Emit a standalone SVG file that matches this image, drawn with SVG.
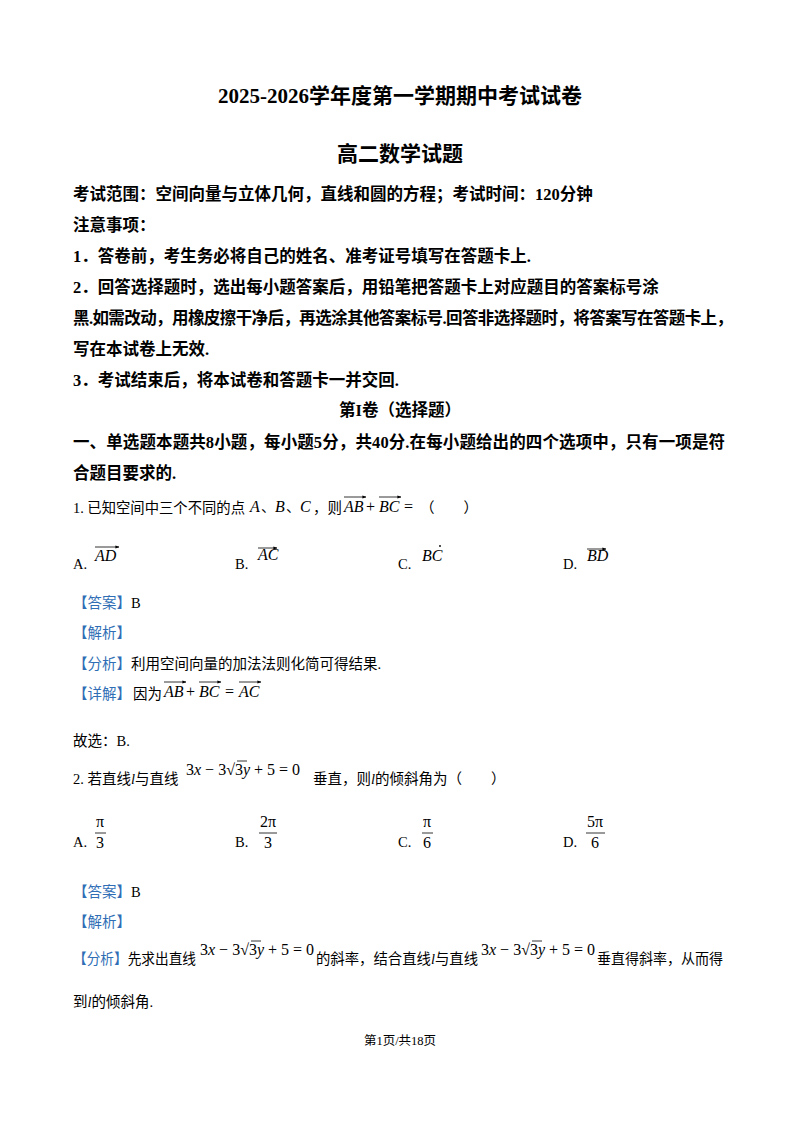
<svg xmlns="http://www.w3.org/2000/svg" width="800" height="1132" viewBox="0 0 800 1132">
<style>
text{font-family:"Liberation Serif","Noto Sans CJK SC",serif;fill:#000}
.h{font-weight:bold;font-size:16.5px}
.t{font-size:21px;font-weight:bold}
.n{font-size:14.5px}
.m{font-size:16px;font-style:italic}
.r{font-size:16px}
.b{fill:#2f6eb5;font-size:14.5px}
.v{stroke:#000;stroke-width:0.8;fill:none}
</style>
<defs><marker id="a" markerWidth="5" markerHeight="4" refX="4.5" refY="2" orient="auto"><path d="M0,0L5,2L0,4" fill="#000"/></marker></defs>
<rect width="800" height="1132" fill="#fff"/>
<text class="t" x="400" y="103" text-anchor="middle">2025-2026学年度第一学期期中考试试卷</text>
<text class="t" x="400" y="161" text-anchor="middle">高二数学试题</text>
<text class="h" x="73" y="200">考试范围：空间向量与立体几何，直线和圆的方程；考试时间：120分钟</text>
<text class="h" x="73" y="231">注意事项：</text>
<text class="h" x="73" y="262">1．答卷前，考生务必将自己的姓名、准考证号填写在答题卡上.</text>
<text class="h" x="73" y="293">2．回答选择题时，选出每小题答案后，用铅笔把答题卡上对应题目的答案标号涂</text>
<text class="h" x="73" y="324" textLength="660" lengthAdjust="spacing">黑.如需改动，用橡皮擦干净后，再选涂其他答案标号.回答非选择题时，将答案写在答题卡上，</text>
<text class="h" x="73" y="355">写在本试卷上无效.</text>
<text class="h" x="73" y="386">3．考试结束后，将本试卷和答题卡一并交回.</text>
<text class="h" x="400" y="416" text-anchor="middle" font-size="15">第I卷（选择题）</text>
<text class="h" x="73" y="448" textLength="652" lengthAdjust="spacing">一、单选题本题共8小题，每小题5分，共40分.在每小题给出的四个选项中，只有一项是符</text>
<text class="h" x="73" y="479">合题目要求的.</text>
<g id="q1">
<text class="n" x="73" y="513" textLength="172" lengthAdjust="spacingAndGlyphs">1. 已知空间中三个不同的点</text>
<text class="m" x="250" y="512">A</text><text class="n" x="261" y="512">、</text><text class="m" x="275" y="512">B</text><text class="n" x="286" y="512">、</text><text class="m" x="300" y="512">C</text>
<text class="n" x="313" y="513">，则</text>
<text class="m" x="344" y="512">AB</text><text class="r" x="366" y="512">+</text><text class="m" x="379" y="512">BC</text><text class="r" x="404" y="512">=</text>
<text class="n" x="420" y="513">（　　）</text>
<line class="v" x1="344" y1="497" x2="366" y2="497" marker-end="url(#a)"/>
<line class="v" x1="379" y1="497" x2="401" y2="497" marker-end="url(#a)"/>
<text class="n" x="73" y="569">A.</text><text class="m" x="95" y="561">AD</text><line class="v" x1="95" y1="547" x2="119" y2="547" marker-end="url(#a)"/>
<text class="n" x="235" y="569">B.</text><text class="m" x="258" y="560" font-size="13">AC</text><line class="v" x1="258" y1="548" x2="277" y2="548" marker-end="url(#a)"/>
<text class="n" x="398" y="569">C.</text><text class="m" x="422" y="561">BC</text><circle cx="440" cy="546" r="0.9" fill="#000"/>
<text class="n" x="563" y="569">D.</text><text class="m" x="587" y="561" font-size="13">BD</text><line class="v" x1="587" y1="549" x2="606" y2="549" marker-end="url(#a)"/>
<text class="b" x="73" y="608">【答案】<tspan fill="#000">B</tspan></text>
<text class="b" x="73" y="638">【解析】</text>
<text class="b" x="73" y="669">【分析】<tspan fill="#000">利用空间向量的加法法则化简可得结果.</tspan></text>
<text class="b" x="73" y="699">【详解】</text>
<text class="n" x="133" y="699">因为</text>
<text class="m" x="164" y="697">AB</text><text class="r" x="186" y="697">+</text><text class="m" x="199" y="697">BC</text><text class="r" x="225" y="697">=</text><text class="m" x="239" y="697">AC</text>
<line class="v" x1="164" y1="682" x2="186" y2="682" marker-end="url(#a)"/>
<line class="v" x1="199" y1="682" x2="221" y2="682" marker-end="url(#a)"/>
<line class="v" x1="239" y1="682" x2="261" y2="682" marker-end="url(#a)"/>
<text class="n" x="73" y="746">故选：B.</text>
</g>
<g id="q2">
<text class="n" x="73" y="784">2. 若直线<tspan font-style="italic">l</tspan>与直线</text>
<text class="r" x="186" y="775"><tspan>3</tspan><tspan font-style="italic">x</tspan> − 3√3<tspan font-style="italic">y</tspan> + 5 = 0</text>
<line class="v" x1="237" y1="761" x2="247" y2="761"/>
<text class="n" x="313" y="784">垂直，则<tspan font-style="italic">l</tspan>的倾斜角为（　　）</text>
<text class="n" x="73" y="847">A.</text><text class="r" x="96" y="827">π</text><line class="v" x1="95" y1="833" x2="106" y2="833"/><text class="r" x="96" y="848">3</text>
<text class="n" x="235" y="847">B.</text><text class="r" x="260" y="827">2π</text><line class="v" x1="259" y1="833" x2="277" y2="833"/><text class="r" x="264" y="848">3</text>
<text class="n" x="398" y="847">C.</text><text class="r" x="423" y="827">π</text><line class="v" x1="422" y1="833" x2="433" y2="833"/><text class="r" x="423" y="848">6</text>
<text class="n" x="563" y="847">D.</text><text class="r" x="587" y="827">5π</text><line class="v" x1="586" y1="833" x2="605" y2="833"/><text class="r" x="591" y="848">6</text>
<text class="b" x="73" y="897">【答案】<tspan fill="#000">B</tspan></text>
<text class="b" x="73" y="927">【解析】</text>
<text class="b" x="73" y="964" textLength="123" lengthAdjust="spacingAndGlyphs">【分析】<tspan fill="#000">先求出直线</tspan></text>
<text class="r" x="200" y="955"><tspan>3</tspan><tspan font-style="italic">x</tspan> − 3√3<tspan font-style="italic">y</tspan> + 5 = 0</text>
<line class="v" x1="251" y1="941" x2="261" y2="941"/>
<text class="n" x="316" y="964" textLength="162" lengthAdjust="spacingAndGlyphs">的斜率，结合直线<tspan font-style="italic">l</tspan>与直线</text>
<text class="r" x="481" y="955"><tspan>3</tspan><tspan font-style="italic">x</tspan> − 3√3<tspan font-style="italic">y</tspan> + 5 = 0</text>
<line class="v" x1="532" y1="941" x2="542" y2="941"/>
<text class="n" x="597" y="964" textLength="126" lengthAdjust="spacingAndGlyphs">垂直得斜率，从而得</text>
<text class="n" x="73" y="1007">到<tspan font-style="italic">l</tspan>的倾斜角.</text>
</g>
<text x="400" y="1045" text-anchor="middle" font-size="12.5">第1页/共18页</text>
</svg>
